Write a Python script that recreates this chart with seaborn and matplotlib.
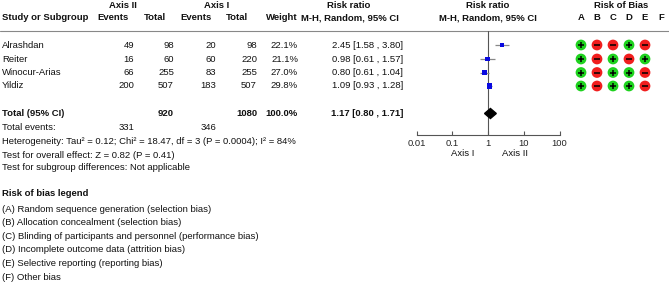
import numpy as np
import pandas as pd
import matplotlib
matplotlib.use('Agg')
import matplotlib.pyplot as plt
from matplotlib.patches import Polygon
import seaborn as sns

sns.set_style('white')
plt.rcParams['font.family'] = ['Liberation Sans', 'DejaVu Sans']

# data
studies = ['Alrashdan', 'Reiter', 'Winocur-Arias', 'Yildiz']
events2 = [49, 16, 66, 200]
total2 = [98, 60, 255, 507]
events1 = [20, 60, 83, 183]
total1 = [98, 220, 255, 507]
weights = [22.1, 21.1, 27.0, 29.8]
rr = [2.45, 0.98, 0.80, 1.09]
rr_lo = [1.58, 0.61, 0.61, 0.93]
rr_hi = [3.80, 1.57, 1.04, 1.28]
pooled = [1.17, 0.80, 1.71]
bias_cols = ['A', 'B', 'C', 'D', 'E', 'F']
bias = [['+', '-', '-', '+', '-', ''],
        ['+', '-', '+', '-', '+', ''],
        ['+', '-', '+', '+', '-', ''],
        ['+', '-', '+', '+', '-', '']]
ticks = [0.01, 0.1, 1, 10, 100]
legend_items = ['(A) Random sequence generation (selection bias)',
                '(B) Allocation concealment (selection bias)',
                '(C) Blinding of participants and personnel (performance bias)',
                '(D) Incomplete outcome data (attrition bias)',
                '(E) Selective reporting (reporting bias)',
                '(F) Other bias']

W, H = 669, 282
fig = plt.figure(figsize=(W / 100, H / 100), dpi=100)
ax = fig.add_axes([0, 0, 1, 1])
ax.set_xlim(0, W)
ax.set_ylim(H, 0)
ax.axis('off')

fs = 6.8
rows = [45, 59, 72.5, 86]
y_total = 113.5

def t(x, y, s, ha='left', bold=False, **kw):
    ax.text(x, y, s, ha=ha, va='center', fontsize=fs,
            fontweight='bold' if bold else 'normal', color='#111111', **kw)

# header
t(123, 5, 'Axis II', 'center', True)
t(217, 5, 'Axis I', 'center', True)
t(349, 5, 'Risk ratio', 'center', True)
t(488, 5, 'Risk ratio', 'center', True)
t(621, 5, 'Risk of Bias', 'center', True)
t(2, 18, 'Study or Subgroup', 'left', True)
t(113, 18, 'Events', 'center', True)
t(155, 18, 'Total', 'center', True)
t(196, 18, 'Events', 'center', True)
t(237, 18, 'Total', 'center', True)
t(282, 18, 'Weight', 'center', True)
t(350, 18, 'M-H, Random, 95% CI', 'center', True)
t(488, 18, 'M-H, Random, 95% CI', 'center', True)
bias_x = [581, 597, 613, 629, 645, 661]
for bx, c in zip(bias_x, bias_cols):
    t(bx, 18, c, 'center', True)
ax.plot([0, W], [31, 31], color='#888888', lw=0.8)

# study rows
for i, y in enumerate(rows):
    t(2, y, studies[i])
    t(134, y, str(events2[i]), 'right')
    t(174, y, str(total2[i]), 'right')
    t(216, y, str(events1[i]), 'right')
    t(257, y, str(total1[i]), 'right')
    t(298, y, f'{weights[i]:.1f}%', 'right')
    t(403, y, f'{rr[i]:.2f} [{rr_lo[i]:.2f} , {rr_hi[i]:.2f}]', 'right')

t(2, y_total, 'Total (95% CI)', bold=True)
t(174, y_total, str(sum(total2)), 'right', True)
t(257, y_total, str(sum(total1)), 'right', True)
t(298, y_total, f'{sum(weights):.1f}%', 'right', True)
t(403, y_total, f'{pooled[0]:.2f} [{pooled[1]:.2f} , {pooled[2]:.2f}]', 'right', True)
t(2, 127, 'Total events:')
t(134, 127, str(sum(events2)), 'right')
t(216, 127, str(sum(events1)), 'right')
t(2, 141, 'Heterogeneity: Tau² = 0.12; Chi² = 18.47, df = 3 (P = 0.0004); I² = 84%')
t(2, 155, 'Test for overall effect: Z = 0.82 (P = 0.41)')
t(2, 168, 'Test for subgroup differences: Not applicable')

t(2, 194, 'Risk of bias legend', bold=True)
for k, s in enumerate(legend_items):
    t(2, 209 + k * 13.6, s)

# risk of bias circles
recs = []
for i, y in enumerate(rows):
    for j, v in enumerate(bias[i]):
        if v:
            recs.append({'x': bias_x[j], 'y': y, 'v': v})
bdf = pd.DataFrame(recs)
sns.scatterplot(data=bdf, x='x', y='y', hue='v', palette={'+': '#1ed21e', '-': '#f01e1e'},
                s=60, edgecolor='none', legend=False, ax=ax, zorder=3)
ax.scatter(bdf.loc[bdf['v'] == '+', 'x'], bdf.loc[bdf['v'] == '+', 'y'],
           marker='+', s=16, c='black', linewidths=1.1, zorder=4)
ax.scatter(bdf.loc[bdf['v'] == '-', 'x'], bdf.loc[bdf['v'] == '-', 'y'],
           marker='_', s=16, c='black', linewidths=1.1, zorder=4)

# forest plot axes (log scale), y in pixel coords
x0, x1, ytop, ybot = 416.5, 559.5, 31, 135
fax = fig.add_axes([x0 / W, 1 - ybot / H, (x1 - x0) / W, (ybot - ytop) / H])
fax.set_xscale('log')
fax.set_xlim(0.01, 100)
fax.set_ylim(ybot, ytop)
fax.patch.set_alpha(0)
for side in ['top', 'right', 'left']:
    fax.spines[side].set_visible(False)
fax.spines['bottom'].set_color('#555555')
fax.spines['bottom'].set_linewidth(0.8)
fax.set_yticks([])
fax.set_xticks(ticks)
fax.set_xticklabels(['0.01', '0.1', '1', '10', '100'])
fax.xaxis.set_minor_locator(matplotlib.ticker.NullLocator())
fax.tick_params(axis='x', direction='in', length=3, width=0.8, color='#555555',
                labelsize=fs, pad=3, bottom=True)
fax.axvline(1, color='#555555', lw=0.8)

fdf = pd.DataFrame({'rr': rr, 'lo': rr_lo, 'hi': rr_hi, 'y': rows, 'w': weights})
fax.hlines(fdf['y'], fdf['lo'], fdf['hi'], color='#888888', lw=0.9, zorder=2)
sns.scatterplot(data=fdf, x='rr', y='y', size='w', sizes=(10, 16), marker='s',
                color='#0a0ae0', edgecolor='none', legend=False, ax=fax, zorder=3)
dh = 5
fax.add_patch(Polygon([[pooled[1], y_total], [pooled[0], y_total - dh],
                       [pooled[2], y_total], [pooled[0], y_total + dh]],
                      closed=True, color='black', zorder=3))
fax.set_xlabel('')
fax.set_ylabel('')
ax.text(463, 154, 'Axis I', ha='center', va='center', fontsize=fs, color='#111111')
ax.text(515, 154, 'Axis II', ha='center', va='center', fontsize=fs, color='#111111')

fig.savefig('out.png', dpi=100)
